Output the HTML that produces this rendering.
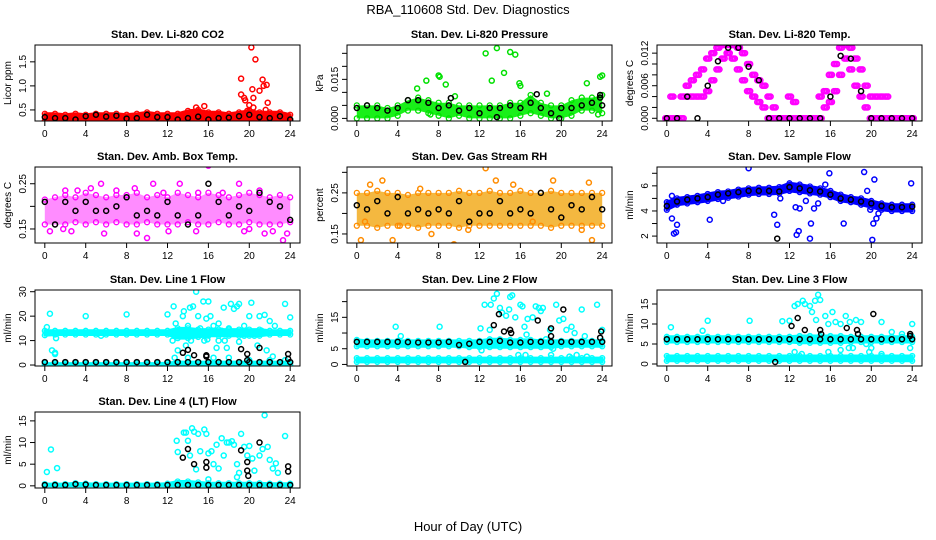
<!DOCTYPE html>
<html><head><meta charset="utf-8"><title>RBA_110608 Std. Dev. Diagnostics</title>
<style>
html,body{margin:0;padding:0;background:#fff;}
svg{display:block;font-family:"Liberation Sans",sans-serif;}
</style></head>
<body>
<svg id="chart" width="936" height="540" viewBox="0 0 936 540" xmlns="http://www.w3.org/2000/svg">
<rect x="0" y="0" width="936" height="540" fill="#fff"/>
<text x="468" y="14" text-anchor="middle" font-size="13">RBA_110608  Std. Dev. Diagnostics</text>
<text x="468" y="531" text-anchor="middle" font-size="13">Hour of Day (UTC)</text>
<g id="panels"></g>
</svg>
<script>
// ---- data ----
const hours = [0,1,2,3,4,5,6,7,8,9,10,11,12,13,14,15,16,17,18,19,20,21,22,23,24];
const halfHours = [0,0.5,1,1.5,2,2.5,3,3.5,4,4.5,5,5.5,6,6.5,7,7.5,8,8.5,9,9.5,10,10.5,11,11.5,12,12.5,13,13.5,14,14.5,15,15.5,16,16.5,17,17.5,18,18.5,19,19.5,20,20.5,21,21.5,22,22.5,23,23.5,24];
const xTicks = [0,4,8,12,16,20,24];

// P1 CO2
const p1Lo = [0.27,0.27,0.27,0.27,0.27,0.27,0.27,0.27,0.27,0.27,0.27,0.27,0.27,0.27,0.27,0.27,0.27,0.27,0.27,0.27,0.27,0.27,0.27,0.27,0.27];
const p1Hi = [0.42,0.42,0.4,0.42,0.4,0.42,0.42,0.42,0.4,0.42,0.45,0.42,0.42,0.42,0.48,0.5,0.45,0.45,0.42,0.45,0.48,0.45,0.45,0.45,0.4];
const p1Black = [0.35,0.33,0.33,0.3,0.37,0.4,0.36,0.38,0.32,0.33,0.4,0.35,0.35,0.3,0.33,0.36,0.3,0.33,0.34,0.37,0.4,0.35,0.33,0.37,0.3];
const p1Out = [[14.8,0.55],[15.6,0.58],[19.2,1.15],[19.2,0.82],[19.5,0.75],[19.6,0.7],[20,0.6],[20.2,1.8],[20.3,0.93],[20.4,0.75],[20.6,1.55],[20.4,0.55],[21,0.9],[21.3,1.13],[21.4,1.0],[21.7,1.02],[21.8,0.65],[21.6,0.5],[19.8,0.48],[15.8,0.22]];
const p1BlackOut = [];

// P2 Pressure
const p2Lo = [0,0,0,0,0.001,0.003,0.003,0.002,0.001,0,0.001,0,0,0,0,0,0.001,0.002,0.001,0,0,0.001,0.003,0.003,0.002];
const p2Hi = [0.005,0.005,0.005,0.004,0.005,0.007,0.008,0.007,0.006,0.006,0.005,0.005,0.005,0.005,0.005,0.006,0.006,0.009,0.006,0.005,0.005,0.007,0.008,0.008,0.009];
const p2Black = [0.004,0.005,0.004,0.003,0.004,0.007,0.007,0.006,0.004,0.005,0.003,0.004,0.002,0.004,0.004,0.005,0.004,0.006,0.004,0.002,0.004,0.004,0.005,0.006,0.005];
const p2Out = [[12.6,0.025],[13.7,0.027],[15,0.0255],[15.5,0.0245],[14.4,0.0175],[13.2,0.0145],[8,0.0165],[8.1,0.016],[8.7,0.013],[6.8,0.0145],[5.9,0.0115],[15.9,0.0135],[16,0.0125],[22.5,0.0135],[23.8,0.016],[24,0.0165],[23.6,0.0015],[7.2,0.0015],[18.6,0.0095],[9.6,0.0085]];
const p2BlackOut = [[23.8,0.009],[23.8,0.008],[17.6,0.0093],[9.2,0.0078],[13.7,0.0005],[19.8,0]];

// P3 Li-820 Temp (half-hourly)
const p3Hi = [0,0.004,0,0.004,0.006,0.007,0.008,0.009,0.011,0.012,0.013,0.0135,0.0135,0.0135,0.013,0.012,0.01,0.008,0.007,0.006,0.004,0.002,0,0,0.004,0.003,0,0,0,0,0.004,0.005,0.008,0.01,0.013,0.0135,0.013,0.011,0.009,0.006,0.004,0.004,0.004,0.004,0,0,0,0,0];
const p3Lo = [0,0,0,0,0.004,0.004,0.004,0.004,0.005,0.007,0.009,0.011,0.012,0.011,0.009,0.007,0.005,0.004,0.003,0.002,0,0,0,0,0,0,0,0,0,0,0,0.002,0.003,0.005,0.008,0.011,0.009,0.006,0.004,0.002,0,0,0,0,0,0,0,0,0];
const p3Black = [0,0,0.004,0,0.006,0.0105,0.013,0.013,0.0095,0.007,0,0,0,0,0,0,0.004,0.0115,0.011,0.005,0,0,0,0,0];

// P4 Amb Box Temp
const p4Lo = [0.16,0.16,0.16,0.165,0.16,0.165,0.16,0.165,0.16,0.16,0.165,0.16,0.16,0.16,0.165,0.16,0.16,0.165,0.16,0.16,0.165,0.16,0.16,0.16,0.165];
const p4Hi = [0.215,0.22,0.225,0.22,0.23,0.225,0.22,0.225,0.225,0.23,0.22,0.225,0.22,0.23,0.225,0.22,0.23,0.225,0.22,0.225,0.23,0.225,0.22,0.225,0.22];
const p4Black = [0.21,0.16,0.21,0.19,0.21,0.19,0.19,0.2,0.22,0.18,0.19,0.18,0.21,0.18,0.16,0.18,0.25,0.21,0.18,0.2,0.19,0.23,0.21,0.2,0.17];
const p4Out = [[0.5,0.145],[2.6,0.145],[5.8,0.14],[9,0.14],[10,0.13],[12.1,0.145],[14.8,0.145],[16,0.29],[15,0.23],[19.5,0.145],[20,0.15],[21.5,0.14],[22.3,0.145],[23.3,0.125],[5.5,0.25],[10.6,0.25],[13.2,0.25],[19,0.25],[8.8,0.24],[7,0.235],[2,0.235],[3.2,0.235],[17.4,0.23],[21,0.235],[23.7,0.14],[1.8,0.15],[4.5,0.24],[11.6,0.23]];

// P5 Gas Stream RH
const p5Lo = [0.17,0.17,0.165,0.17,0.17,0.17,0.165,0.17,0.17,0.17,0.165,0.17,0.17,0.17,0.17,0.17,0.17,0.17,0.17,0.165,0.17,0.17,0.17,0.17,0.17];
const p5Hi = [0.25,0.25,0.255,0.25,0.25,0.245,0.25,0.25,0.25,0.25,0.255,0.25,0.25,0.255,0.25,0.25,0.255,0.25,0.25,0.255,0.25,0.25,0.25,0.25,0.25];
const p5Black = [0.22,0.21,0.23,0.2,0.24,0.2,0.21,0.2,0.21,0.2,0.23,0.18,0.2,0.2,0.23,0.2,0.21,0.2,0.25,0.21,0.19,0.22,0.21,0.24,0.21];
const p5Out = [[0.4,0.135],[3.5,0.135],[9.5,0.125],[12.6,0.31],[23,0.135],[2.5,0.28],[1.3,0.27],[13.6,0.28],[19.2,0.28],[22.7,0.275],[7.3,0.15],[0.8,0.18],[22,0.16],[17.2,0.18],[4.2,0.17],[10.9,0.16],[6.2,0.26],[15.3,0.27]];

// P6 Sample Flow
const p6Lo = [4.1,4.5,4.6,4.7,4.8,4.95,5.05,5.15,5.3,5.35,5.35,5.4,5.6,5.5,5.4,5.3,5.1,4.8,4.7,4.5,4.3,4.1,4.0,4.0,4.0];
const p6Hi = [4.7,5.0,5.1,5.2,5.35,5.5,5.55,5.7,5.8,5.85,5.85,5.9,6.2,6.1,5.95,5.8,5.6,5.3,5.1,5.0,4.8,4.6,4.5,4.5,4.5];
const p6Black = [4.4,4.75,4.9,5.0,5.1,5.3,5.4,5.5,5.6,5.6,5.6,5.55,5.9,5.8,5.65,5.55,5.3,5.0,4.9,4.75,4.6,4.4,4.3,4.3,4.35];
const p6Out = [[0.5,3.4],[0.7,2.2],[0.9,2.3],[1,2.9],[0.5,5.2],[4.2,3.3],[5.5,4.8],[8,7.4],[10.5,3.7],[10.8,2.9],[11.1,5],[12.7,2.1],[12.9,2.4],[13,4.2],[12.6,4.3],[14,1.8],[14.1,3],[14.4,4.2],[14.8,4.6],[15.5,6.1],[15.9,7],[17.3,3],[19.3,7.1],[19.6,5.6],[20.1,1.7],[20.2,3],[20.3,6.5],[20.5,3.4],[20.7,3.8],[19.9,4.1],[23.9,6.2],[13.6,4.8]];
const p6BlackOut = [[10.8,1.8]];

// P7 Line 1 Flow
const p7LoA = [12.2,12.5,12.5,12.5,12.5,12.5,12.5,12.5,12.5,12.5,12.5,12.5,12.5,11,11,11.5,12,12,12,12,12,12,12.5,12.5,12.5];
const p7HiA = [14,14,14,14,14,14,14,14,14,14,14,14,14,15,15,14.5,14.5,14.5,14.5,14.5,14.5,14.5,14,14,14];
const p7LoB = [0,0,0,0,0,0,0,0,0,0,0,0,0,0,0,0,0,0,0,0,0,0,0,0,0];
const p7HiB = [0.6,0.6,0.6,0.6,0.6,0.6,0.6,0.6,0.6,0.6,0.6,0.6,0.8,1.2,1.2,1.2,1.2,1.2,1.2,1.2,1.2,1.2,1.2,1.2,1.2];
const p7Black = [1.2,1.2,1.2,1.2,1.2,1.2,1.2,1.2,1.2,1.2,1.2,1.2,1.2,1.2,1.2,1.2,1.2,1.2,1.2,1.2,1.2,1.2,1.2,1.2,1.2];
const p7Out = [[0.5,21],[0.2,15.5],[0.7,6],[1,5],[1,4.5],[4,20],[8,20.7],[5.5,12],[1.1,11],[12,20.7],[12.6,24],[12.5,10],[12.8,17],[13,14],[13.3,12],[13.5,20],[13.6,22],[13.8,8],[14,16],[14.2,23.5],[14.5,24],[14.3,10],[14.8,30],[15,20],[15.2,15],[15.5,26],[15.6,10],[15.8,19],[16,26],[16.2,20],[16.5,16],[16.8,7],[17,17],[17.3,14],[17.5,23.5],[17.6,10],[17.8,7],[18,15],[18.2,25],[18.5,23],[18.8,24],[19,25],[19,9.5],[19.5,16],[20,20],[20.2,25.5],[20.5,12],[20.8,8],[21,20],[21.5,20.5],[21.7,6],[22,18],[22.3,3.5],[22.5,16],[23.5,25],[24,19.5],[13,6],[12.7,3],[14,3],[16.5,3],[18,3],[20,2],[22,2],[23.5,2],[15.9,10.5],[21.2,14],[19.5,12],[17,10]];
const p7BlackOut = [[13.5,5],[14,6.2],[14.6,4],[15.8,4],[15.8,3.5],[19.2,6.5],[19.8,4.5],[19.8,2],[21,7],[23.8,4.5],[23.8,2.5]];

// P8 Line 2 Flow
const p8LoA = [5.8,5.8,5.8,5.8,5.8,5.8,5.8,5.8,5.8,5.8,5.8,5.5,5.5,5.5,5.5,5.5,5.5,5.5,5.5,5.5,5.8,5.8,5.8,5.8,5.8];
const p8HiA = [7.8,7.5,7.5,7.5,7.5,7.5,7.5,7.5,7.5,7.5,7.5,7.5,7.5,8,8,7.8,7.8,7.8,7.5,7.5,7.5,7.5,7.5,7.5,7.5];
const p8LoB = [0.8,0.8,0.8,0.8,0.8,0.8,0.8,0.8,0.8,0.8,0.8,0.8,0.8,0.8,0.8,0.8,0.8,0.8,0.8,0.8,0.8,0.8,0.8,0.8,0.8];
const p8HiB = [2,2,2,2,2,2,2,2,2,2,2,2,2,2,2,2,2,2,2,2,2,2,2,2,2];
const p8Black = [7.2,7.2,7.2,7.2,7.2,7.1,7,7,7,7.2,6.2,6.6,7.2,7.2,7.5,7,7,7.2,7.2,7.2,7.2,7.2,7.2,7.2,7.2];
const p8Out = [[3.8,12],[4.3,9],[8.1,12],[12.5,19],[12.1,11.5],[13.1,19],[13.4,21],[13.7,22.5],[14,18],[14.2,16.5],[14.6,15.5],[15,21.5],[15.2,22],[14.9,17.5],[15.5,15],[16,19],[16.2,18.5],[16.4,12],[16.6,9.5],[16.7,14.5],[17.2,15],[17.5,18.5],[17.8,18],[18,17],[18.2,18],[18.5,8],[18.9,11],[19.2,5],[19.5,19],[19.8,14],[20.2,14.5],[20.5,11],[21,12],[21.3,10],[22,17.5],[22.3,9],[23.5,19],[24,11],[13,11],[15.8,3],[12.2,4.5],[16.5,3],[20.8,2.5],[21.5,3],[22.5,2.5],[19,3]];
const p8BlackOut = [[10.6,0.8],[13.4,12.5],[13.9,16],[14.4,10.5],[15.1,10],[15,11],[17.7,14],[19,11.5],[19,9],[20.2,17.5],[23.9,10.5],[23.8,8.5]];

// P9 Line 3 Flow
const p9LoA = [5.5,5.5,5.5,5.5,5.5,5.5,5.5,5.5,5.5,5.5,5.5,5.5,5.5,5.3,5.3,5.3,5.3,5.3,5.5,5.5,5.5,5.5,5.5,5.5,5.5];
const p9HiA = [6.8,6.8,6.8,6.8,6.8,6.8,6.8,6.8,6.8,6.8,6.8,6.8,6.8,7,7,7,7,7,6.8,6.8,6.8,6.8,6.8,6.8,6.8];
const p9LoB = [0.8,0.8,0.8,0.8,0.8,0.8,0.8,0.8,0.8,0.8,0.8,0.8,0.8,0.8,0.8,0.8,0.8,0.8,0.8,0.8,0.8,0.8,0.8,0.8,0.8];
const p9HiB = [2,2,2,2,2,2,2,2,2,2,2,2,2,2,2,2,2,2,2,2,2,2,2,2,2];
const p9Black = [6.2,6.2,6.2,6.2,6.2,6.2,6.2,6.2,6.2,6.2,6.2,6.2,6.2,6.2,6.2,6.2,6.2,6.2,6.2,6.2,6.2,6.2,6.2,6.2,6.2];
const p9Out = [[0.4,9.2],[3.5,8.3],[4,10.8],[8.1,10.8],[11.3,10.7],[12,10.8],[12.5,14.5],[12.8,15],[13.3,15.8],[13.5,15],[14,14.5],[14.2,13],[14.5,15.8],[14.8,17.3],[15,16],[14.6,11],[15.5,12],[15.8,10],[16.2,13],[16.5,10.5],[17,10],[17.5,12],[17.9,10.5],[18.2,4],[18.5,11],[19,10.5],[19.5,5],[20,4],[21,10.5],[22,8],[23,7.5],[24,10],[23.8,4],[12.5,3],[13.2,2.5],[15.8,3],[17,3.5],[17.8,4],[19.8,3],[21,2.5],[22.5,1.5]];
const p9BlackOut = [[10.6,0.5],[12.2,9.5],[12.8,11.5],[13.5,8.5],[15,8.5],[15.1,7.5],[17.6,9],[18.6,8.5],[18.7,7.5],[20.2,12.5],[23.8,7.5],[23.8,7]];

// P10 Line 4 (LT) Flow
const p10Lo = [0,0,0,0,0,0,0,0,0,0,0,0,0,0,0,0,0,0,0,0,0,0,0,0,0];
const p10Hi = [0.4,0.4,0.4,0.6,0.5,0.4,0.4,0.4,0.4,0.4,0.4,0.4,0.5,1,1,0.8,0.6,0.6,0.6,0.6,0.6,0.6,0.5,0.5,0.5];
const p10Black = [0.2,0.2,0.2,0.4,0.3,0.2,0.2,0.2,0.2,0.2,0.2,0.2,0.2,0.2,0.2,0.2,0.2,0.2,0.2,0.2,0.2,0.2,0.2,0.2,0.2];
const p10Out = [[0.2,3.2],[0.6,8.4],[1.2,4.1],[12.9,10.4],[13,7.8],[13.6,12.3],[13.8,12.3],[14,10.4],[14.2,7],[14.4,13.3],[14.6,12.5],[15,12],[15.2,8],[15.6,13],[15.8,12],[16,7.5],[16.3,8],[16.5,5],[16.8,9.5],[17,4],[17.3,11],[17.5,7],[17.8,10],[18,10],[18.3,10.3],[18.5,9.5],[18.8,5],[19,3],[19.2,12],[19.5,9],[19.8,7],[20,9.2],[20.3,6.3],[20.5,3.5],[21,7],[21.3,8.5],[21.5,16.3],[21.8,9],[22,6],[22.3,4],[22.6,5.2],[22.8,3],[23.5,11.5],[16,1.5],[18.8,2],[14.8,3.8]];
const p10BlackOut = [[13.5,6.5],[14,8.5],[14.6,5],[15.8,5.5],[15.8,4.2],[19.2,8.2],[19.8,5.5],[19.8,3.5],[19.9,2.3],[21,10],[23.8,4.5],[23.8,3.3]];

// ---- layout ----
const colLeft = [35, 347, 657];
const rowTop = [45, 167, 290, 412];
const W = 265, H = 76;
const xDom = [-0.96, 24.96];
const NS = 'http://www.w3.org/2000/svg';
const root = document.getElementById('panels');

function mk(tag, attrs, parent) {
  const e = document.createElementNS(NS, tag);
  for (const k in attrs) e.setAttribute(k, attrs[k]);
  parent.appendChild(e);
  return e;
}

const panels = [
  {key:'co2', title:'Stan. Dev. Li-820 CO2', ylab:'Licor ppm', col:0,row:0, dom:[0.27,1.85], ticks:[0.5,1,1.5], labs:['0.5','1.0','1.5'], color:'#ff0000', band:'#ff0000', op:1, xs:hours, bands:[[p1Lo,p1Hi]], black:p1Black, out:p1Out, bout:p1BlackOut},
  {key:'pressure', title:'Stan. Dev. Li-820 Pressure', ylab:'kPa', col:1,row:0, dom:[-0.001,0.0282], ticks:[0,0.005,0.01,0.015,0.02,0.025], labs:['0.000','','','0.015','',''], color:'#00e000', band:'#00ee00', op:0.9, xs:hours, bands:[[p2Lo,p2Hi]], black:p2Black, out:p2Out, bout:p2BlackOut},
  {key:'li820-temp', title:'Stan. Dev. Li-820 Temp.', ylab:'degrees C', col:2,row:0, dom:[-0.0005,0.0135], ticks:[0,0.002,0.004,0.006,0.008,0.01,0.012], labs:['0.000','','','0.006','','','0.012'], color:'#ff00ff', band:null, op:1, xs:halfHours, pts:[p3Hi,p3Lo], bands:[], black:p3Black, out:[], bout:[]},
  {key:'amb-box-temp', title:'Stan. Dev. Amb. Box Temp.', ylab:'degrees C', col:0,row:1, dom:[0.119,0.287], ticks:[0.15,0.2,0.25], labs:['0.15','','0.25'], color:'#ff00ff', band:'#ff00ff', op:0.45, xs:hours, bands:[[p4Lo,p4Hi]], black:p4Black, out:p4Out, bout:[]},
  {key:'gas-rh', title:'Stan. Dev. Gas Stream RH', ylab:'percent', col:1,row:1, dom:[0.128,0.313], ticks:[0.15,0.2,0.25,0.3], labs:['0.15','','0.25',''], color:'#ff8c00', band:'#f0a000', op:0.75, xs:hours, bands:[[p5Lo,p5Hi]], black:p5Black, out:p5Out, bout:[]},
  {key:'sample-flow', title:'Stan. Dev. Sample Flow', ylab:'ml/min', col:2,row:1, dom:[1.45,7.5], ticks:[2,3,4,5,6,7], labs:['2','','4','','6',''], color:'#0000ff', band:'#0000ff', op:1, xs:hours, bands:[[p6Lo,p6Hi]], black:p6Black, out:p6Out, bout:p6BlackOut},
  {key:'line1-flow', title:'Stan. Dev. Line 1 Flow', ylab:'ml/min', col:0,row:2, dom:[-0.4,30.7], ticks:[0,10,20,30], labs:['0','10','20','30'], color:'#00ffff', band:'#00ffff', op:1, xs:hours, bands:[[p7LoA,p7HiA],[p7LoB,p7HiB]], black:p7Black, out:p7Out, bout:p7BlackOut},
  {key:'line2-flow', title:'Stan. Dev. Line 2 Flow', ylab:'ml/min', col:1,row:2, dom:[-0.5,23.7], ticks:[0,5,10,15,20], labs:['0','5','','15',''], color:'#00ffff', band:'#00ffff', op:1, xs:hours, bands:[[p8LoA,p8HiA],[p8LoB,p8HiB]], black:p8Black, out:p8Out, bout:p8BlackOut},
  {key:'line3-flow', title:'Stan. Dev. Line 3 Flow', ylab:'ml/min', col:2,row:2, dom:[-0.5,18.5], ticks:[0,5,10,15], labs:['0','5','10','15'], color:'#00ffff', band:'#00ffff', op:1, xs:hours, bands:[[p9LoA,p9HiA],[p9LoB,p9HiB]], black:p9Black, out:p9Out, bout:p9BlackOut},
  {key:'line4-flow', title:'Stan. Dev. Line 4 (LT) Flow', ylab:'ml/min', col:0,row:3, dom:[-0.5,17.05], ticks:[0,5,10,15], labs:['0','5','10','15'], color:'#00ffff', band:'#00ffff', op:1, xs:hours, bands:[[p10Lo,p10Hi]], black:p10Black, out:p10Out, bout:p10BlackOut}
];

panels.forEach(p => {
  const L = colLeft[p.col], T = rowTop[p.row];
  const sx = v => L + (v - xDom[0]) / (xDom[1] - xDom[0]) * W;
  const sy = v => T + H - (v - p.dom[0]) / (p.dom[1] - p.dom[0]) * H;
  const g = mk('g', {}, root);
  
  

  const clipId = 'clip-' + p.key;
  const cp = mk('clipPath', {id: clipId}, g);
  mk('rect', {x: L, y: T, width: W, height: H}, cp);
  const plot = mk('g', {'clip-path': 'url(#' + clipId + ')'}, g);
  
  

  // bands
  p.bands.forEach((b, bi) => {
    const lo = b[0], hi = b[1];
    let d = '';
    p.xs.forEach((x, i) => { d += (i ? 'L' : 'M') + sx(x).toFixed(1) + ',' + sy(hi[i]).toFixed(1); });
    for (let i = p.xs.length - 1; i >= 0; i--) d += 'L' + sx(p.xs[i]).toFixed(1) + ',' + sy(lo[i]).toFixed(1);
    d += 'Z';
    const band = mk('path', {d: d, fill: p.band, 'fill-opacity': p.op, stroke: p.op < 1 ? 'none' : p.color, 'stroke-width': 3, 'stroke-linejoin': 'round'}, plot);
    
    
    [lo, hi].forEach(arr => {
      p.xs.forEach((x, i) => {
        const c = mk('circle', {cx: sx(x), cy: sy(arr[i]), r: 2.5, fill: 'none', stroke: p.color, 'stroke-width': 1.3}, plot);
        
        
      });
    });
  });
  // point series (no band)
  (p.pts || []).forEach(arr => {
    p.xs.forEach((x, i) => {
      [-0.15, 0, 0.15].forEach(dx => {
        const c = mk('circle', {cx: sx(x + dx), cy: sy(arr[i]), r: 2.5, fill: 'none', stroke: p.color, 'stroke-width': 1.6}, plot);
        
        
      });
    });
  });
  // colored outliers
  p.out.forEach(pt => {
    const c = mk('circle', {cx: sx(pt[0]), cy: sy(pt[1]), r: 2.5, fill: 'none', stroke: p.color, 'stroke-width': 1.5}, plot);
    
    
  });
  // black series (hourly) + black outliers
  hours.forEach((h, i) => {
    const c = mk('circle', {cx: sx(h), cy: sy(p.black[i]), r: 2.5, fill: 'none', stroke: '#000', 'stroke-width': 1.5}, plot);
    
    
  });
  p.bout.forEach(pt => {
    const c = mk('circle', {cx: sx(pt[0]), cy: sy(pt[1]), r: 2.5, fill: 'none', stroke: '#000', 'stroke-width': 1.5}, plot);
    
    
  });

  // frame
  const fr = mk('rect', {x: L, y: T, width: W, height: H, fill: 'none', stroke: '#000', 'stroke-width': 1}, g);
  
  

  // x axis
  const xa = mk('g', {}, g);
  
  
  mk('line', {x1: sx(xTicks[0]), x2: sx(xTicks[xTicks.length - 1]), y1: T + H, y2: T + H, stroke: '#000'}, xa);
  xTicks.forEach(t => {
    mk('line', {x1: sx(t), x2: sx(t), y1: T + H, y2: T + H + 5, stroke: '#000'}, xa);
    const tx = mk('text', {x: sx(t), y: T + H + 16, 'text-anchor': 'middle', 'font-size': 10}, xa);
    tx.textContent = String(t);
    
    
  });

  // y axis
  const ya = mk('g', {}, g);
  
  
  mk('line', {x1: L, x2: L, y1: sy(p.ticks[0]), y2: sy(p.ticks[p.ticks.length - 1]), stroke: '#000'}, ya);
  p.ticks.forEach((t, i) => {
    const y = sy(t);
    mk('line', {x1: L - 5, x2: L, y1: y, y2: y, stroke: '#000'}, ya);
    if (p.labs[i]) {
      const tx = mk('text', {x: L - 9, y: y, 'text-anchor': 'middle', 'font-size': 10, transform: 'rotate(-90 ' + (L - 9) + ' ' + y + ')'}, ya);
      tx.textContent = p.labs[i];
      
      
    }
  });
  const yl = mk('text', {x: L - 24, y: T + H / 2, 'text-anchor': 'middle', 'font-size': 10, transform: 'rotate(-90 ' + (L - 24) + ' ' + (T + H / 2) + ')'}, g);
  yl.textContent = p.ylab;
  
  

  const tt = mk('text', {x: L + W / 2, y: T - 7, 'text-anchor': 'middle', 'font-size': 11, 'font-weight': 'bold'}, g);
  tt.textContent = p.title;
  
  
});
</script>
</body></html>
